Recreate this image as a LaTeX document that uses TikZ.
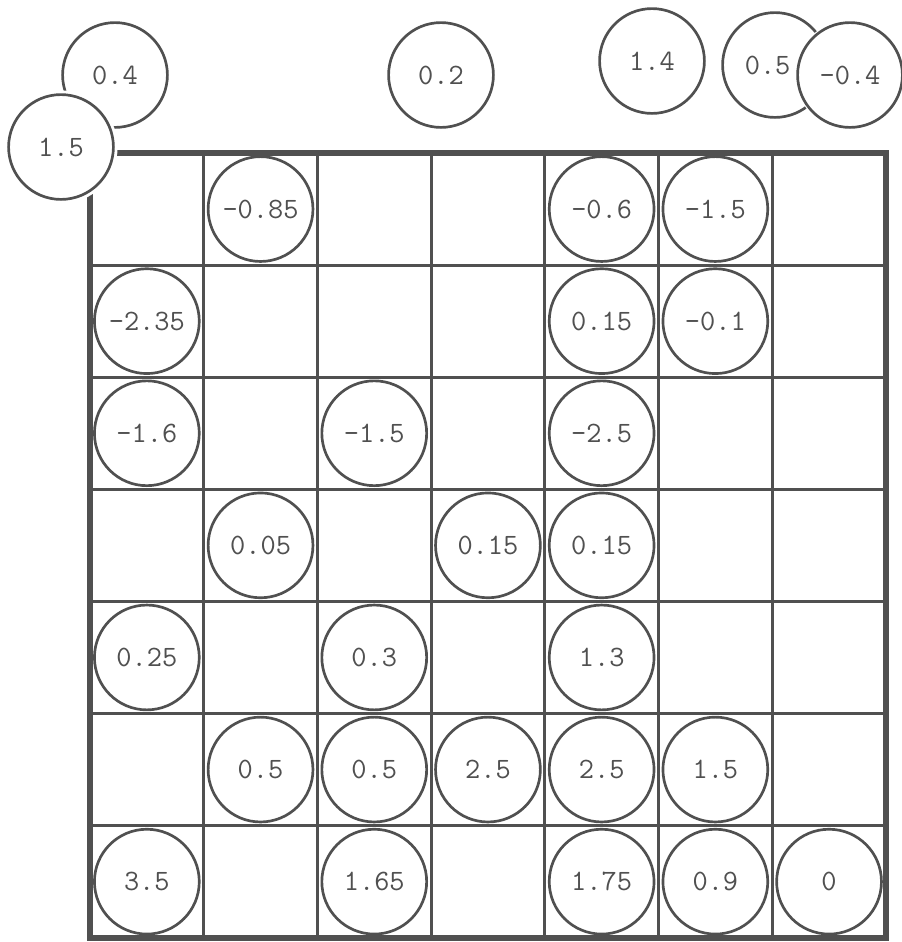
\documentclass[tikz,border=0pt]{standalone}
\usepackage{tikz}
\usetikzlibrary{positioning}
\definecolor{ink}{HTML}{505050}

\begin{document}
\begin{tikzpicture}[
    x=0.025cm, y=-0.025cm,
    disc/.style={circle, draw=ink, line width=1.9pt, fill=white, minimum size=2.62cm,
        inner sep=0pt, text=ink, font=\ttfamily\fontsize{21}{24}\selectfont},
    topdisc/.style={disc, preaction={draw=white, line width=#1}},
    gridline/.style={draw=ink, line width=2pt},
    frame/.style={draw=ink, line width=3.6pt}
]
    \useasboundingbox (0,0) rectangle (902,942);

    % the board
    \foreach \i in {1,...,6} {
        \draw[gridline] ({90+113.7*\i},153) -- ({90+113.7*\i},938);
        \draw[gridline] (90,{153+112.1*\i}) -- (886,{153+112.1*\i});
    }
    \draw[frame] (90,153) rectangle (886,938);

    % values in the cells
    \foreach \r/\c/\v in {1/2/-0.85, 1/5/-0.6, 1/6/-1.5,
                          2/1/-2.35, 2/5/0.15, 2/6/-0.1,
                          3/1/-1.6, 3/3/-1.5, 3/5/-2.5,
                          4/2/0.05, 4/4/0.15, 4/5/0.15,
                          5/1/0.25, 5/3/0.3, 5/5/1.3,
                          6/2/0.5, 6/3/0.5, 6/4/2.5, 6/5/2.5, 6/6/1.5,
                          7/1/3.5, 7/3/1.65, 7/5/1.75, 7/6/0.9, 7/7/0}
        \node[disc] (cell-\r-\c) at ({90+113.7*(\c-0.5)},{153+112.1*(\r-0.5)}) {\v};

    % values above the board
    \node[disc] (top-a) at (115,75) {0.4};
    \node[topdisc=6pt] (top-b) at (61,147) {1.5};
    \node[disc] (top-c) at (441,75) {0.2};
    \node[disc] (top-d) at (652,61) {1.4};
    \node[disc] (top-e) at (775,65) {0.5\hspace*{0.5em}};
    \node[topdisc=3.5pt] (top-f) at (850,75) {-0.4};
\end{tikzpicture}
\end{document}
